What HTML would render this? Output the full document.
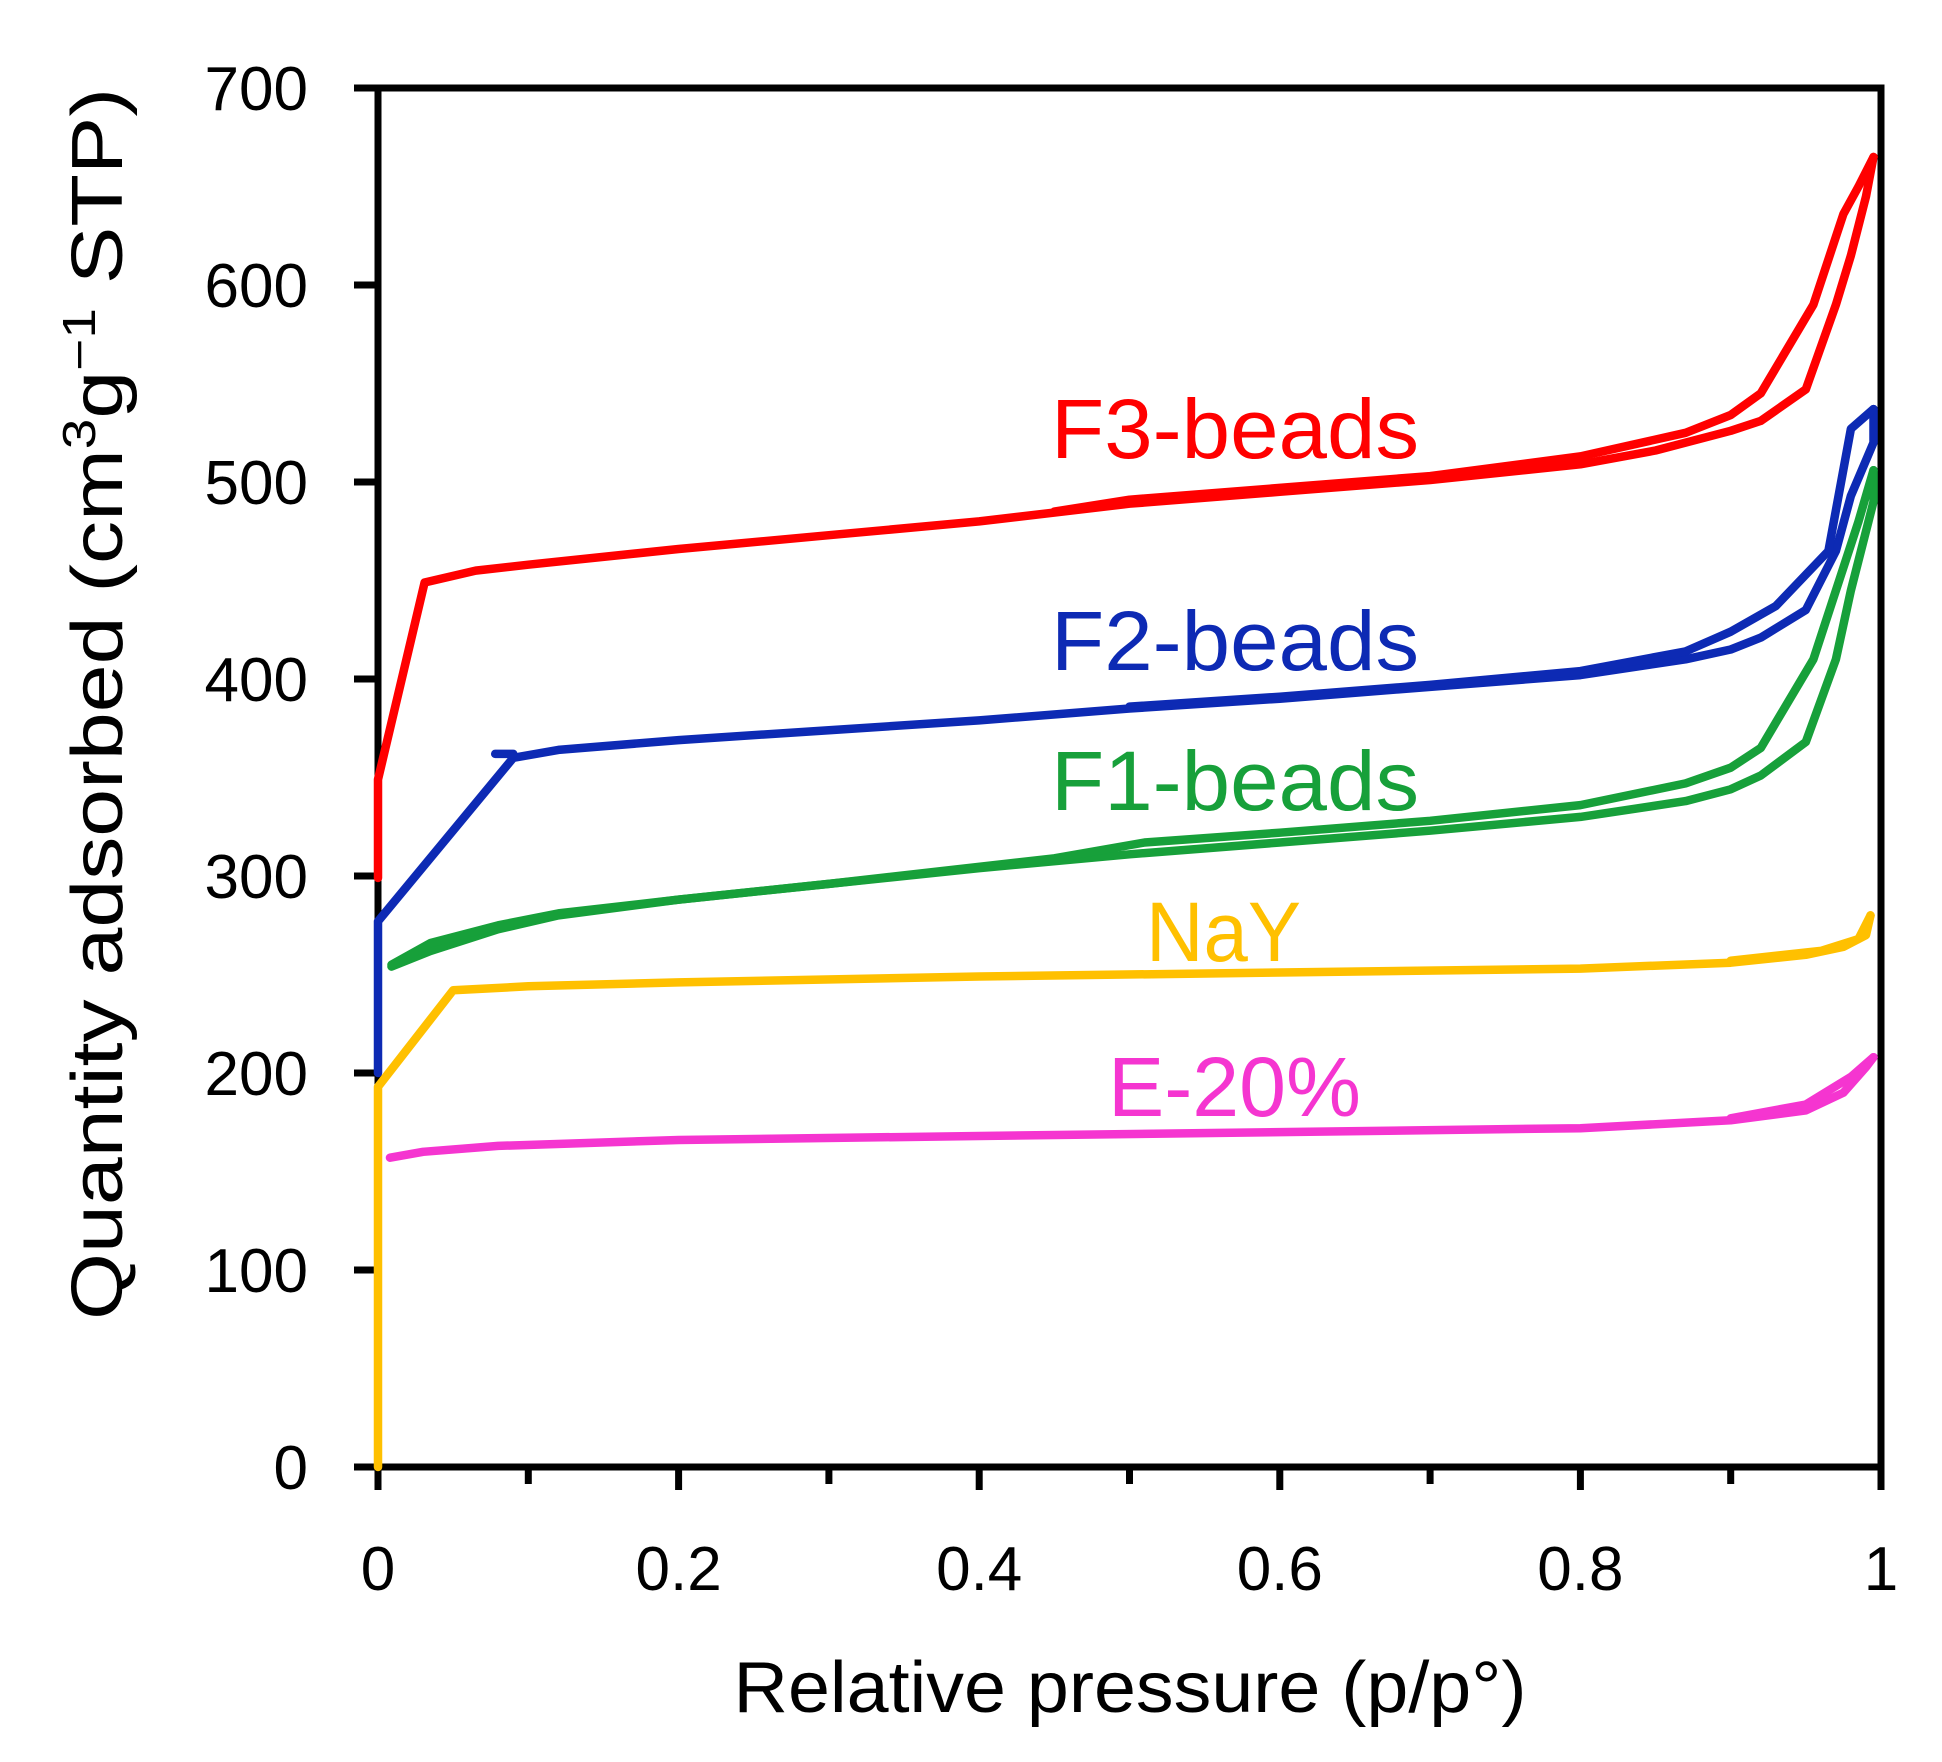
<!DOCTYPE html>
<html><head><meta charset="utf-8"><style>
body{margin:0;background:#fff;}
svg{display:block;font-family:"Liberation Sans",sans-serif;}
</style></head><body>
<svg id="chart" width="1942" height="1762" viewBox="0 0 1942 1762">
<rect width="1942" height="1762" fill="#fff"/>
<g id="axes"></g>
<g id="series"></g>
<text x="1130" y="1712" font-size="72" text-anchor="middle" textLength="793" lengthAdjust="spacingAndGlyphs">Relative pressure (p/p°)</text>
<text transform="translate(122,704) rotate(-90)" font-size="72" text-anchor="middle" textLength="1232" lengthAdjust="spacingAndGlyphs">Quantity adsorbed (cm<tspan font-size="46" dy="-27">3</tspan><tspan dy="27">g</tspan><tspan font-size="46" dy="-27">−1</tspan><tspan dy="27"> STP)</tspan></text>
<text x="1051" y="458" font-size="84" fill="#FF0000" textLength="368" lengthAdjust="spacingAndGlyphs">F3-beads</text>
<text x="1051" y="670" font-size="84" fill="#0D2AB4" textLength="368" lengthAdjust="spacingAndGlyphs">F2-beads</text>
<text x="1051" y="810" font-size="84" fill="#17A03A" textLength="368" lengthAdjust="spacingAndGlyphs">F1-beads</text>
<text x="1146" y="961" font-size="84" fill="#FFC000" textLength="155" lengthAdjust="spacingAndGlyphs">NaY</text>
<text x="1108" y="1116" font-size="84" fill="#F535D0" textLength="253" lengthAdjust="spacingAndGlyphs">E-20%</text>
</svg>
<script>
const xTicks=[0,0.2,0.4,0.6,0.8,1];
const xTickLabels=["0","0.2","0.4","0.6","0.8","1"];
const yTicks=[0,100,200,300,400,500,600,700];
const f3Ads=[[0,299],[0,349],[0.031,449],[0.065,455],[0.1,458],[0.2,466],[0.3,473],[0.4,480],[0.5,489],[0.6,495],[0.7,501],[0.8,509],[0.85,516],[0.9,526],[0.92,531],[0.95,547],[0.97,590],[0.98,615],[0.99,645],[0.995,665]];
const f3Des=[[0.995,665],[0.985,650],[0.975,636],[0.955,590],[0.92,545],[0.9,534],[0.87,525],[0.8,513],[0.7,503],[0.6,497],[0.5,491],[0.45,485]];
const f2Ads=[[0,200],[0,277],[0.09,360],[0.12,364],[0.2,369],[0.3,374],[0.4,379],[0.5,385],[0.6,390],[0.7,396],[0.8,402],[0.87,410],[0.9,415],[0.92,421],[0.95,435],[0.97,465],[0.98,493],[0.995,520],[0.995,537]];
const f2Des=[[0.995,537],[0.98,527],[0.965,465],[0.93,437],[0.9,424],[0.87,414],[0.8,404],[0.7,397],[0.6,391],[0.5,386]];
const f2Start=[[0.078,362],[0.09,362]];
const f1Ads=[[0.009,254],[0.035,262],[0.08,273],[0.12,280],[0.2,288],[0.3,296],[0.4,304],[0.5,311],[0.6,317],[0.7,323],[0.8,330],[0.87,338],[0.9,344],[0.92,351],[0.95,368],[0.97,410],[0.98,445],[0.995,490],[0.995,506]];
const f1Des=[[0.995,506],[0.985,480],[0.955,410],[0.92,365],[0.9,355],[0.87,347],[0.8,336],[0.7,328],[0.6,322],[0.51,317],[0.45,309],[0.3,296],[0.2,288],[0.12,281],[0.08,275],[0.035,266],[0.009,255]];
const nayAds=[[0,0],[0,193],[0.05,242],[0.1,244],[0.2,246],[0.4,249],[0.6,251],[0.8,253],[0.9,256],[0.95,260],[0.975,264],[0.99,270],[0.993,280]];
const nayDes=[[0.993,280],[0.985,268],[0.96,262],[0.9,257]];
const e20Ads=[[0.008,157],[0.03,160],[0.08,163],[0.2,166],[0.4,168],[0.6,170],[0.8,172],[0.9,176],[0.95,181],[0.975,190],[0.99,203],[0.995,208]];
const e20Des=[[0.995,208],[0.98,198],[0.95,184],[0.9,177]];

const X0=378,X1=1881,Y0=1467,Y1=88;
const sx=v=>X0+v*(X1-X0);
const sy=v=>Y0-v/700*(Y0-Y1);
const NS="http://www.w3.org/2000/svg";
const sg=document.getElementById('series');
const ag=document.getElementById('axes');
function line(pts,color,name){
  const p=document.createElementNS(NS,'polyline');
  p.setAttribute('points',pts.map(d=>sx(d[0]).toFixed(1)+','+sy(d[1]).toFixed(1)).join(' '));
  p.setAttribute('fill','none');p.setAttribute('stroke',color);p.setAttribute('stroke-width','8.5');
  p.setAttribute('stroke-linejoin','round');p.setAttribute('stroke-linecap','round');
  
  
  sg.appendChild(p);
}
line(nayAds,'#FFC000','nay-adsorption');line(nayDes,'#FFC000','nay-desorption');
line(e20Ads,'#F535D0','e20-adsorption');line(e20Des,'#F535D0','e20-desorption');
line(f1Ads,'#17A03A','f1-adsorption');line(f1Des,'#17A03A','f1-desorption');
line(f2Ads,'#0D2AB4','f2-adsorption');line(f2Des,'#0D2AB4','f2-desorption');line(f2Start,'#0D2AB4','f2-start');
line(f3Ads,'#FF0000','f3-adsorption');line(f3Des,'#FF0000','f3-desorption');

function seg(x1,y1,x2,y2,name){
  const l=document.createElementNS(NS,'line');
  l.setAttribute('x1',x1);l.setAttribute('y1',y1);l.setAttribute('x2',x2);l.setAttribute('y2',y2);
  l.setAttribute('stroke','#000');l.setAttribute('stroke-width','7');
  
  
  ag.appendChild(l);
}
function txt(x,y,s,anchor,name){
  const t=document.createElementNS(NS,'text');
  t.setAttribute('x',x);t.setAttribute('y',y);t.setAttribute('font-size','62');t.setAttribute('text-anchor',anchor);
  t.textContent=s;
  
  
  ag.appendChild(t);
}
const fr=document.createElementNS(NS,'rect');
fr.setAttribute('x',X0);fr.setAttribute('y',Y1);fr.setAttribute('width',X1-X0);fr.setAttribute('height',Y0-Y1);
fr.setAttribute('fill','none');fr.setAttribute('stroke','#000');fr.setAttribute('stroke-width','7');


ag.appendChild(fr);
yTicks.forEach(v=>{seg(354,sy(v),X0,sy(v),'y-tick');txt(308,sy(v)+22,String(v),'end','y-tick-label');});
for(let i=0;i<=10;i++){const v=i/10;seg(sx(v),Y0,sx(v),i%2===0?1490:1484,'x-tick');}
xTicks.forEach((v,i)=>txt(sx(v),1590,xTickLabels[i],'middle','x-tick-label'));
</script>
</body></html>
